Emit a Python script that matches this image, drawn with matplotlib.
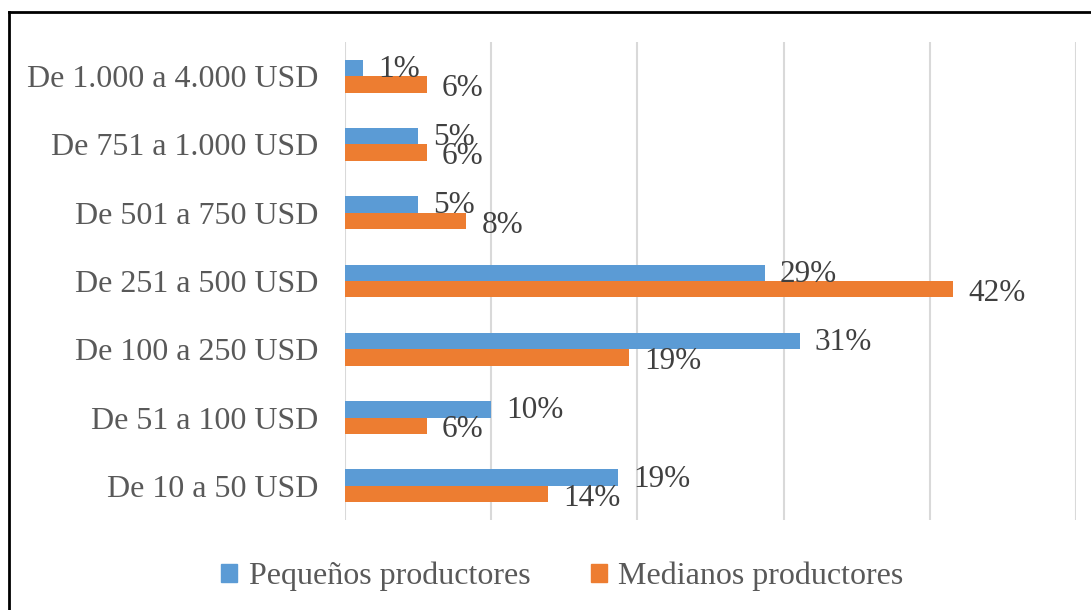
import numpy as np
import matplotlib.pyplot as plt
from matplotlib.lines import Line2D
from matplotlib.patches import Patch

categorias = ['De 10 a 50 USD', 'De 51 a 100 USD', 'De 100 a 250 USD', 'De 251 a 500 USD',
              'De 501 a 750 USD', 'De 751 a 1.000 USD', 'De 1.000 a 4.000 USD']
pequenos = [18.7, 10.0, 31.1, 28.7, 5.0, 5.0, 1.2]
medianos = [13.9, 5.6, 19.4, 41.6, 8.3, 5.6, 5.6]

azul = '#5B9BD5'
naranja = '#ED7D31'
gris = '#595959'

plt.rcParams['font.family'] = ['Liberation Serif', 'DejaVu Serif']

fig = plt.figure(figsize=(10.91, 6.10), dpi=100)
ax = fig.add_axes([0.3162, 0.1475, 0.6700, 0.7836])

y = np.arange(len(categorias))
h = 0.24
ax.barh(y + h / 2, pequenos, height=h, color=azul, zorder=2)
ax.barh(y - h / 2, medianos, height=h, color=naranja, zorder=2)

for yi, v in zip(y, pequenos):
    ax.annotate(f'{v:.0f}%', (v, yi + h / 2), xytext=(11, -1), textcoords='offset points',
                ha='left', va='center', fontsize=22.5, color='#404040')
for yi, v in zip(y, medianos):
    ax.annotate(f'{v:.0f}%', (v, yi - h / 2), xytext=(11, -3), textcoords='offset points',
                ha='left', va='center', fontsize=22.5, color='#404040')

ax.set_xlim(0, 50)
ax.set_ylim(-0.5, len(categorias) - 0.5)
ax.set_xticks(np.arange(0, 51, 10))
ax.set_xticklabels([])
ax.set_yticks(y)
ax.set_yticklabels(categorias, fontsize=23, color=gris)
ax.tick_params(length=0, pad=19)
ax.grid(axis='x', color='#d9d9d9', linewidth=1.5, zorder=0)
for s in ax.spines.values():
    s.set_visible(False)

handles = [Patch(color=azul), Patch(color=naranja)]
fig.legend(handles, ['Pequeños productores', 'Medianos productores'], loc='center',
           bbox_to_anchor=(0.5155, 0.055), ncol=2, frameon=False, fontsize=23,
           handlelength=0.5, handleheight=0.5, handletextpad=0.35, columnspacing=1.9,
           labelcolor=gris)

# marco del gráfico (izquierda y arriba)
fig.add_artist(Line2D([0.0081, 0.0081], [0.0, 0.980], color='black', linewidth=2))
fig.add_artist(Line2D([0.0081, 1.0], [0.980, 0.980], color='black', linewidth=2))

plt.savefig('out.png', dpi=100)
